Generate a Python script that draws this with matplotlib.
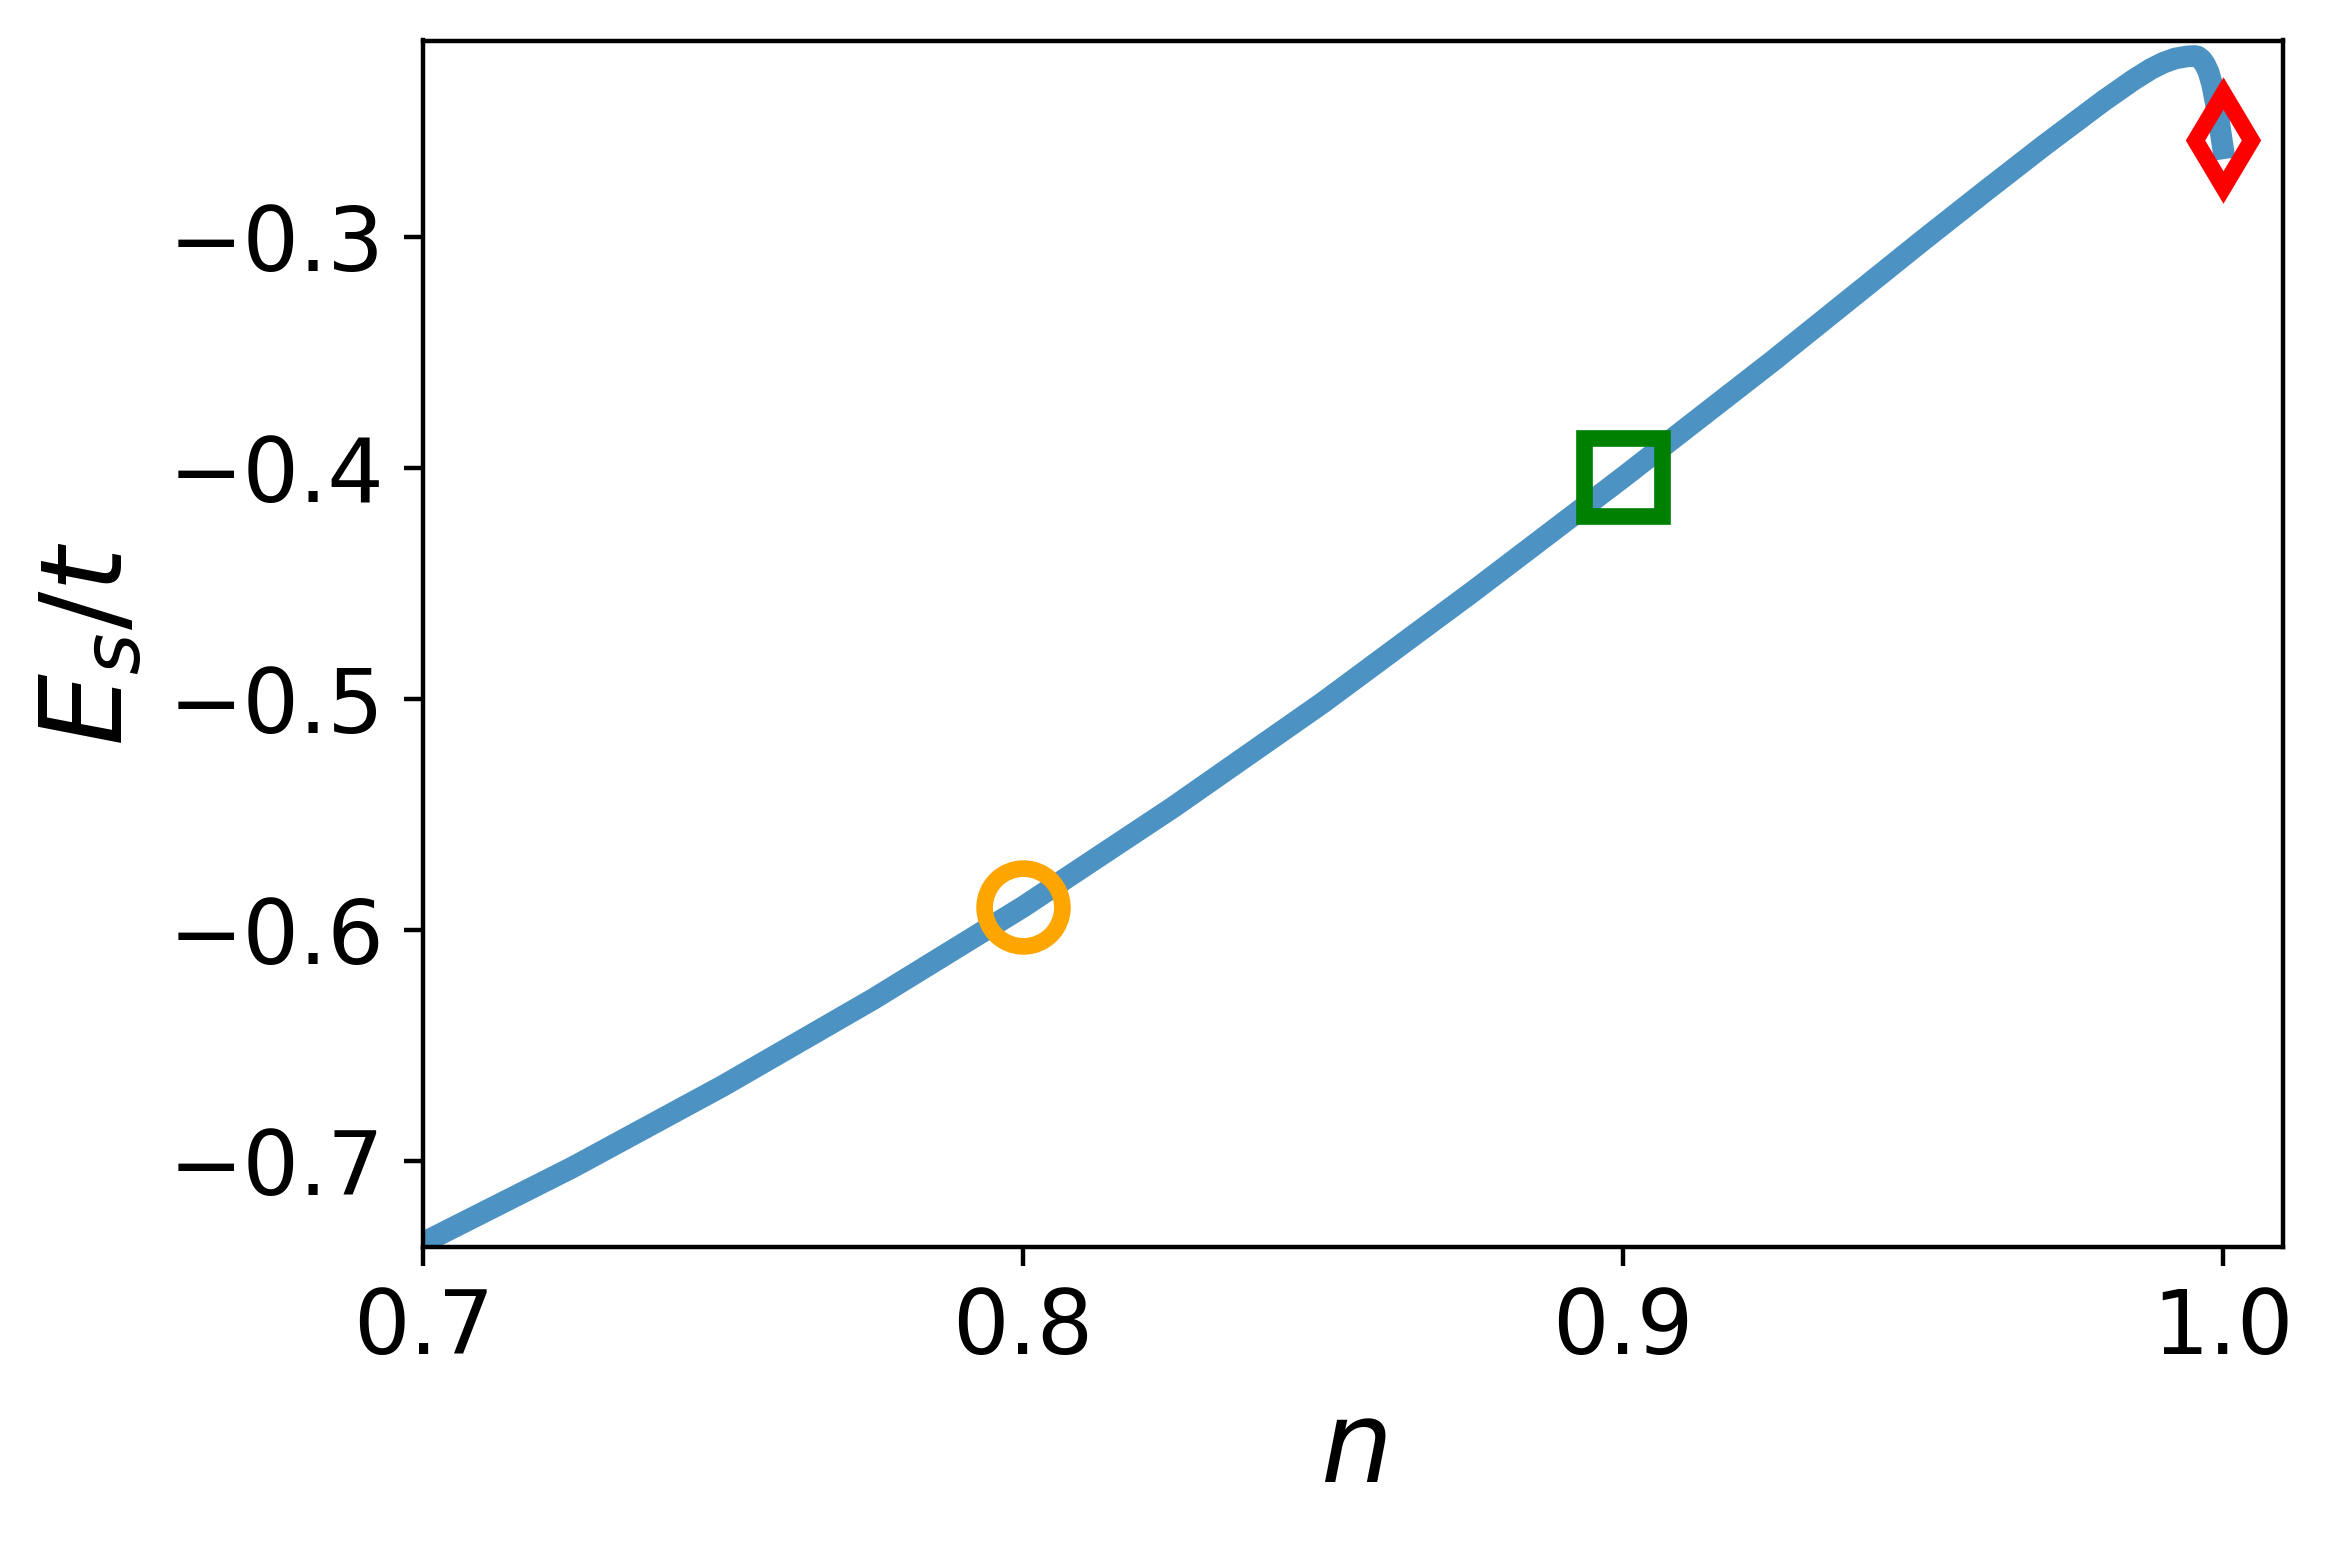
import matplotlib
matplotlib.use('Agg')
import matplotlib.pyplot as plt

# values
n_vals = [0.70, 0.725, 0.75, 0.775, 0.80, 0.825, 0.85, 0.875, 0.90, 0.925,
          0.95, 0.96, 0.97, 0.98, 0.985, 0.988, 0.99, 0.992, 0.994, 0.9953,
          0.9958, 0.9964, 0.9970, 0.9976, 0.9982, 0.9988, 0.9994, 1.0]
E_vals = [-0.7355, -0.7027, -0.6675, -0.6300, -0.5900, -0.5469, -0.5015,
          -0.4534, -0.4040, -0.3535, -0.3013, -0.2808, -0.2606, -0.2411,
          -0.2320, -0.2271, -0.2245, -0.2226, -0.2217, -0.2215,
          -0.2218, -0.2230, -0.2252, -0.2285, -0.2340, -0.2420, -0.2510,
          -0.2615]

mark_n = [0.8, 0.9, 1.0]
mark_E = [-0.590, -0.404, -0.258]
mark_style = ['o', 's', 'd']
mark_color = ['orange', 'green', 'red']
mark_size = [14, 14, 12]

W, H, dpi = 2334, 1543, 400
fig, ax = plt.subplots(figsize=(W/dpi, H/dpi), dpi=dpi)
fig.subplots_adjust(left=423.3/W, right=2283/W, bottom=1-1247.3/H, top=1-40.5/H)

ax.plot(n_vals, E_vals, color='tab:blue', alpha=0.8, lw=3.9)
for x, y, m, c, s in zip(mark_n, mark_E, mark_style, mark_color, mark_size):
    ax.plot(x, y, marker=m, ms=s, mfc='none', mec=c, mew=3)

ax.set_xlim(0.7, 1.01)
ax.set_ylim(-0.7375, -0.2148)
ax.set_xticks([0.7, 0.8, 0.9, 1.0])
ax.set_yticks([-0.7, -0.6, -0.5, -0.4, -0.3])
ax.tick_params(labelsize=16)
ax.set_xlabel(r'$n$', fontsize=20.5)
ax.set_ylabel(r'$E_s/t$', fontsize=20.5)

fig.savefig('out.png', dpi=dpi)
